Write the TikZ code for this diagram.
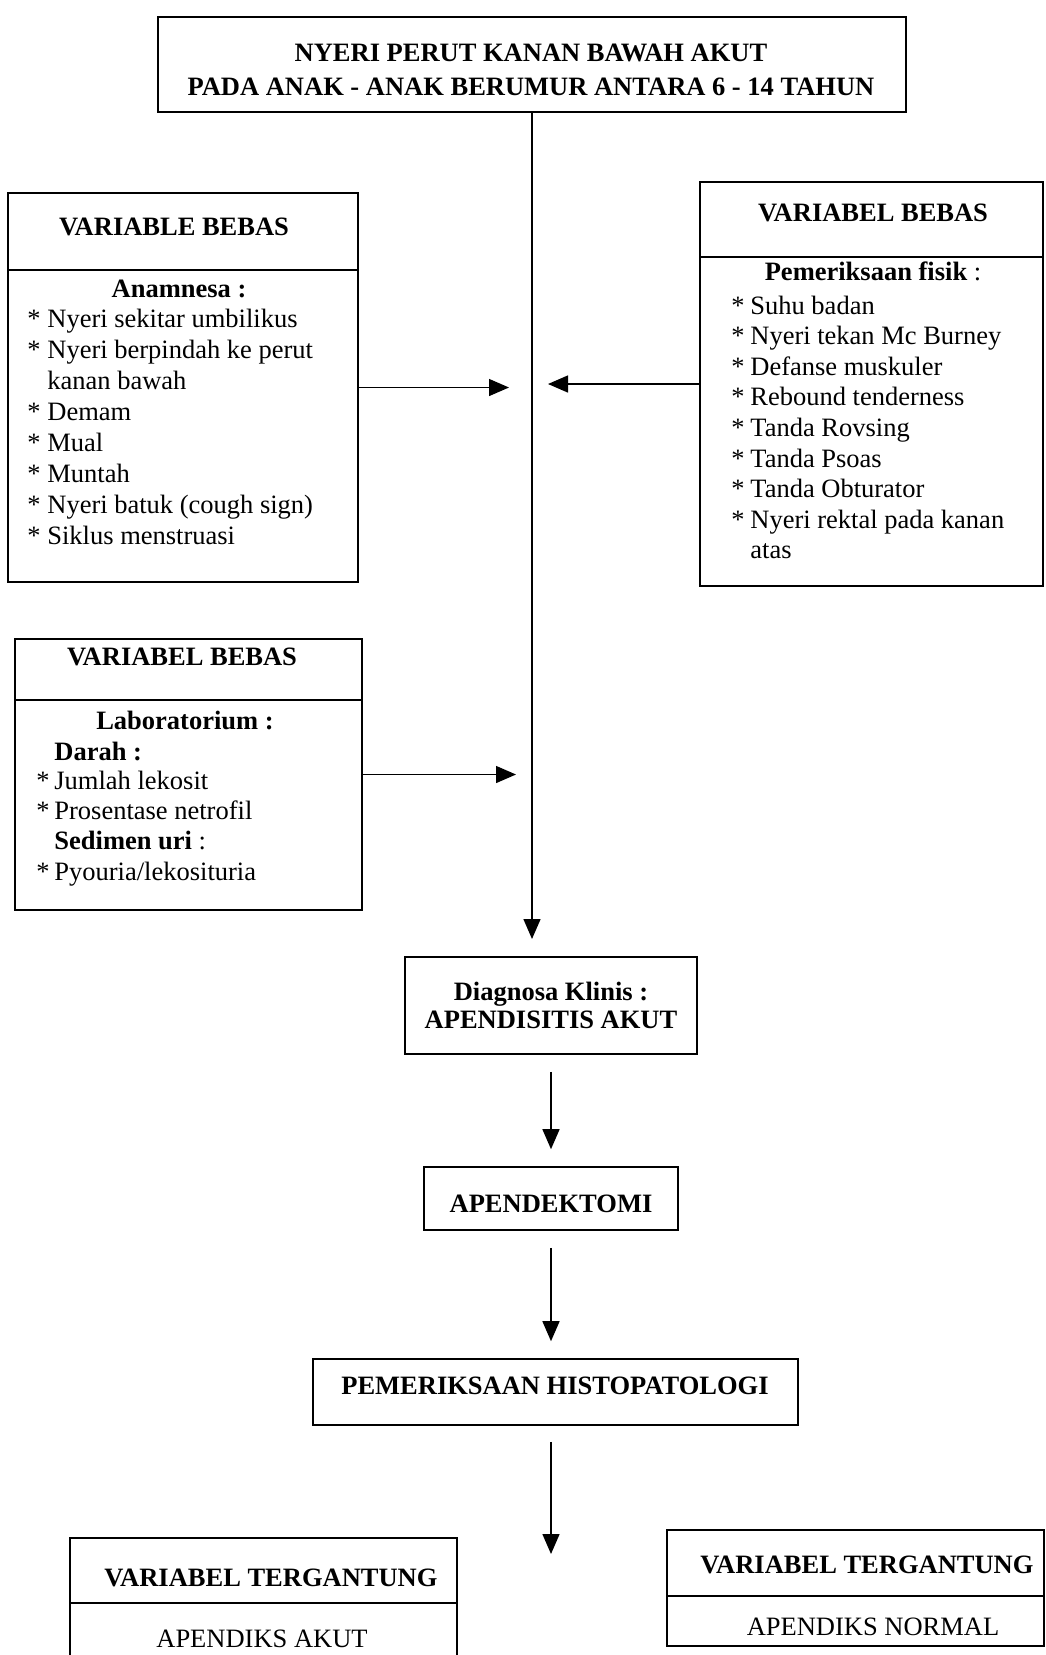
\documentclass[tikz,border=0pt]{standalone}
\usepackage{fontspec}
\setmainfont{Liberation Serif}
\usetikzlibrary{arrows.meta,positioning,fit}

\begin{document}
\begin{tikzpicture}[x=0.5pt,y=-0.5pt,
  box/.style={draw,line width=0.8pt,inner sep=0pt},
  txt/.style={inner sep=0pt,font=\fontsize{13.25}{15.3}\selectfont},
  ttl/.style={inner sep=0pt,font=\fontsize{13.25}{15.3}\selectfont\bfseries},
  itm/.style={txt,anchor=base west},
  arr/.style={line width=0.7pt,-{Triangle[length=10pt,width=8.5pt]}},
  gap/.style={shorten <=8.5pt,shorten >=8.5pt}]
  \def\lh{30.6}   % line pitch inside the lists
  \useasboundingbox (0,0) rectangle (1045,1655);

  % top box
  \node[box,fit={(158,17) (906,112)}] (top) {};
  \node[ttl] (topA) at (531,53) {NYERI PERUT KANAN BAWAH AKUT};
  \node[ttl] (topB) at (531,87) {PADA ANAK - ANAK BERUMUR ANTARA 6 - 14 TAHUN};

  % anamnesa (left)
  \node[box,fit={(8,193) (358,582)}] (anamBox) {};
  \draw[line width=0.8pt] (8,270) -- (358,270);
  \node[ttl] (anamTtl) at (174,227) {VARIABLE BEBAS};
  \node[ttl,anchor=base] (anamHd) at (179,297) {Anamnesa :};
  \foreach \s/\t [count=\i from 0] in {1/Nyeri sekitar umbilikus,
      1/Nyeri berpindah ke perut, 0/kanan bawah, 1/Demam, 1/Mual,
      1/Muntah, 1/Nyeri batuk (cough sign), 1/Siklus menstruasi}
    \node[itm] (an\i) at (27,327+31*\i)
      {\makebox[10pt][l]{\ifnum\s=1 *\fi}\t};

  % pemeriksaan fisik (right)
  \node[box,fit={(700,182) (1043,586)}] (fisikBox) {};
  \draw[line width=0.8pt] (700,257) -- (1043,257);
  \node[ttl] (fisikTtl) at (873,213) {VARIABEL BEBAS};
  \node[txt,anchor=base] (fisikHd) at (873,280) {\textbf{Pemeriksaan fisik} :};
  \foreach \s/\t [count=\i from 0] in {1/Suhu badan,
      1/Nyeri tekan Mc Burney, 1/Defanse muskuler, 1/Rebound tenderness,
      1/Tanda Rovsing, 1/Tanda Psoas, 1/Tanda Obturator,
      1/Nyeri rektal pada kanan, 0/atas}
    \node[itm] (fi\i) at (731,314+\lh*\i)
      {\makebox[9.5pt][l]{\ifnum\s=1 *\fi}\t};

  % laboratorium (left)
  \node[box,fit={(15,639) (362,910)}] (labBox) {};
  \draw[line width=0.8pt] (15,700) -- (362,700);
  \node[ttl] (labTtl) at (182,657) {VARIABEL BEBAS};
  \node[ttl,anchor=base] (labHd) at (185,729) {Laboratorium :};
  \node[itm] (labA) at (54,760) {\textbf{Darah :}};
  \node[itm] (labB) at (36,789) {\makebox[9pt][l]{*}Jumlah lekosit};
  \node[itm] (labC) at (36,819) {\makebox[9pt][l]{*}Prosentase netrofil};
  \node[itm] (labD) at (54,849) {\textbf{Sedimen uri} :};
  \node[itm] (labE) at (36,880) {\makebox[9pt][l]{*}Pyouria/lekosituria};

  % arrows into the main line
  \coordinate (mainTip) at (532,939);
  \coordinate (anamTip) at (509,387.5);
  \coordinate (fisikTip) at (548,384);
  \coordinate (labTip) at (516,774.5);
  \draw[arr] (top) -- (mainTip);
  \draw[arr] (anamBox) -- (anamTip);
  \draw[arr] (fisikBox) -- (fisikTip);
  \draw[arr] (labBox) -- (labTip);

  % steps
  \node[box,fit={(405,957) (697,1054)}] (diag) {};
  \node[ttl,anchor=base] (diagA) at (551,1000) {Diagnosa Klinis :};
  \node[ttl] (diagB) at (551,1020) {APENDISITIS AKUT};
  \node[box,fit={(424,1167) (678,1230)}] (apen) {};
  \node[ttl] (apenT) at (551,1204) {APENDEKTOMI};
  \node[box,fit={(313,1359) (798,1425)}] (histo) {};
  \node[ttl] (histoT) at (555,1386) {PEMERIKSAAN HISTOPATOLOGI};
  \coordinate (histoTip) at (551,1554);
  \draw[arr,gap] (diag.south) -- (diag.south |- apen.north);
  \draw[arr,gap] (apen.south) -- (apen.south |- histo.north);
  \draw[arr,shorten <=8pt] (histo.south -| histoTip) -- (histoTip);

  % dependent variables
  \node[box,fit={(70,1538) (457,1662)}] (akutBox) {};
  \draw[line width=0.8pt] (70,1603) -- (457,1603);
  \node[ttl] (akutTtl) at (271,1578) {VARIABEL TERGANTUNG};
  \node[txt] (akut) at (262,1639) {APENDIKS AKUT};

  \node[box,fit={(667,1530) (1044,1646)}] (normBox) {};
  \draw[line width=0.8pt] (667,1596) -- (1044,1596);
  \node[ttl] (normTtl) at (867,1565) {VARIABEL TERGANTUNG};
  \node[txt] (norm) at (873,1627) {APENDIKS NORMAL};
\end{tikzpicture}
\end{document}
